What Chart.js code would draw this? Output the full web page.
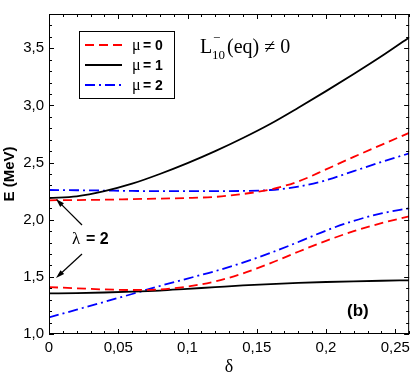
<!DOCTYPE html>
<html>
<head>
<meta charset="utf-8">
<script src="https://cdn.jsdelivr.net/npm/chart.js@4/dist/chart.umd.min.js"></script>
<style>
  html, body { margin: 0; padding: 0; background: #fff; }
  #wrap { width: 415px; height: 376px; }
</style>
</head>
<body>
<div id="wrap"><canvas id="energy" width="415" height="376"></canvas></div>
<script>
// deformation values along the x axis
var delta = [0, 0.02, 0.04, 0.06, 0.08, 0.10, 0.12, 0.14, 0.16, 0.18, 0.20, 0.22, 0.24, 0.26];

// upper branch (MeV)
var mu0Upper = [2.17, 2.172, 2.175, 2.18, 2.185, 2.19, 2.20, 2.225, 2.265, 2.335, 2.44, 2.55, 2.655, 2.76];
var mu1Upper = [2.19, 2.205, 2.25, 2.315, 2.40, 2.495, 2.60, 2.715, 2.84, 2.98, 3.125, 3.275, 3.43, 3.595];
var mu2Upper = [2.26, 2.258, 2.255, 2.252, 2.25, 2.25, 2.25, 2.252, 2.26, 2.29, 2.345, 2.425, 2.505, 2.58];

// lower branch (MeV)
var mu0Lower = [1.41, 1.40, 1.39, 1.385, 1.39, 1.415, 1.46, 1.53, 1.62, 1.72, 1.815, 1.90, 1.97, 2.03];
var mu1Lower = [1.355, 1.358, 1.363, 1.37, 1.38, 1.395, 1.41, 1.425, 1.437, 1.447, 1.455, 1.461, 1.466, 1.47];
var mu2Lower = [1.145, 1.213, 1.281, 1.35, 1.42, 1.485, 1.55, 1.625, 1.71, 1.805, 1.905, 1.99, 2.055, 2.10];

var xTicks = [0, 0.05, 0.1, 0.15, 0.2, 0.25];
var yTicks = [1.0, 1.5, 2.0, 2.5, 3.0, 3.5];

var legendLabels = ['0', '1', '2'];

var RED = '#ff0000';
var BLUE = '#0000ff';
var BLACK = '#000000';
var DASH_RED = [9, 5];
var DASH_BLUE = [10, 4, 2, 4];

function toPoints(ys) {
    var pts = [];
    for (var i = 0; i < delta.length; i++) {
        pts.push({x: delta[i], y: ys[i]});
    }
    return pts;
}

function comma(v) {
    return String(v).replace('.', ',');
}

function makeSet(label, ys, color, dash) {
    return {
        label: label,
        data: toPoints(ys),
        borderColor: color,
        backgroundColor: color,
        borderWidth: 1.8,
        borderDash: dash,
        pointRadius: 0,
        cubicInterpolationMode: 'monotone',
        fill: false
    };
}

// frame, inward ticks, legend and labels
var decorations = {
    id: 'decorations',
    afterDraw: function (chart) {
        var ctx = chart.ctx;
        var a = chart.chartArea;
        var xs = chart.scales.x;
        var ys = chart.scales.y;
        var i, p, len;

        ctx.save();
        ctx.strokeStyle = '#000';
        ctx.lineWidth = 1;
        ctx.setLineDash([]);
        ctx.strokeRect(a.left + 0.5, a.top + 0.5, a.right - a.left - 1, a.bottom - a.top - 1);

        ctx.beginPath();
        for (i = 0; i <= 26; i++) {
            p = Math.round(xs.getPixelForValue(i / 100)) + 0.5;
            len = (i % 5 === 0) ? 5 : 3;
            ctx.moveTo(p, a.bottom);
            ctx.lineTo(p, a.bottom - len);
            ctx.moveTo(p, a.top);
            ctx.lineTo(p, a.top + len);
        }
        for (i = 10; i <= 38; i++) {
            p = Math.round(ys.getPixelForValue(i / 10)) + 0.5;
            len = (i % 5 === 0) ? 5 : 3;
            ctx.moveTo(a.left, p);
            ctx.lineTo(a.left + len, p);
            ctx.moveTo(a.right, p);
            ctx.lineTo(a.right - len, p);
        }
        ctx.stroke();

        // legend box
        ctx.strokeRect(79.5, 31.5, 95, 67);
        var rows = [45, 65, 85];
        var styles = [[RED, DASH_RED], [BLACK, []], [BLUE, DASH_BLUE]];
        for (i = 0; i < 3; i++) {
            ctx.beginPath();
            ctx.strokeStyle = styles[i][0];
            ctx.lineWidth = 1.8;
            ctx.setLineDash(styles[i][1]);
            ctx.moveTo(85, rows[i]);
            ctx.lineTo(122, rows[i]);
            ctx.stroke();
            ctx.setLineDash([]);
            ctx.fillStyle = '#000';
            ctx.textBaseline = 'alphabetic';
            ctx.font = '16px "Liberation Serif"';
            ctx.fillText('\u03bc', 132, rows[i] + 5);
            ctx.font = 'bold 14px "Liberation Sans"';
            ctx.fillText('= ' + legendLabels[i], 143, rows[i] + 5);
        }

        // L^-_10(eq) != 0
        ctx.fillStyle = '#000';
        ctx.font = '20px "Liberation Serif"';
        ctx.fillText('L', 200, 53);
        ctx.fillText('(eq) \u2260 0', 227, 53);
        ctx.font = '13px "Liberation Serif"';
        ctx.fillText('10', 212, 59);
        ctx.fillText('\u2212', 213, 42);

        // lambda = 2 with arrows
        ctx.font = '17px "Liberation Serif"';
        ctx.fillText('\u03bb', 72, 244);
        ctx.font = 'bold 16px "Liberation Sans"';
        ctx.fillText('= 2', 86, 244);
        arrow(ctx, 82, 225, 56, 199);
        arrow(ctx, 82, 254, 56, 278);

        ctx.font = 'bold 17px "Liberation Sans"';
        ctx.fillText('(b)', 347, 316);
        ctx.restore();
    }
};

function arrow(ctx, x1, y1, x2, y2) {
    var ang = Math.atan2(y2 - y1, x2 - x1);
    ctx.beginPath();
    ctx.strokeStyle = '#000';
    ctx.lineWidth = 1.2;
    ctx.moveTo(x1, y1);
    ctx.lineTo(x2 - 4 * Math.cos(ang), y2 - 4 * Math.sin(ang));
    ctx.stroke();
    ctx.beginPath();
    ctx.fillStyle = '#000';
    ctx.moveTo(x2, y2);
    ctx.lineTo(x2 - 9 * Math.cos(ang - 0.3), y2 - 9 * Math.sin(ang - 0.3));
    ctx.lineTo(x2 - 9 * Math.cos(ang + 0.3), y2 - 9 * Math.sin(ang + 0.3));
    ctx.closePath();
    ctx.fill();
}

var ctx = document.getElementById('energy').getContext('2d');
var chart = new Chart(ctx, {
    type: 'line',
    data: {
        datasets: [
            makeSet('\u03bc = 0', mu0Upper, RED, DASH_RED),
            makeSet('\u03bc = 1', mu1Upper, BLACK, []),
            makeSet('\u03bc = 2', mu2Upper, BLUE, DASH_BLUE),
            makeSet('\u03bc = 0', mu0Lower, RED, DASH_RED),
            makeSet('\u03bc = 1', mu1Lower, BLACK, []),
            makeSet('\u03bc = 2', mu2Lower, BLUE, DASH_BLUE)
        ]
    },
    options: {
        responsive: false,
        animation: false,
        layout: {padding: {top: 2, right: 3, left: 0, bottom: 0}},
        plugins: {
            legend: {display: false},
            tooltip: {enabled: false}
        },
        scales: {
            x: {
                type: 'linear',
                min: 0,
                max: 0.26,
                afterFit: function (scale) { scale.height = 42; },
                afterBuildTicks: function (scale) {
                    scale.ticks = xTicks.map(function (v) { return {value: v}; });
                },
                grid: {display: false, drawTicks: false},
                border: {display: false},
                ticks: {
                    padding: 5,
                    color: '#000',
                    font: {family: 'Liberation Sans', size: 15},
                    callback: function (v) { return comma(v); }
                },
                title: {
                    display: true,
                    text: '\u03b4',
                    color: '#000',
                    padding: 0,
                    font: {family: 'Liberation Serif', size: 18, lineHeight: 1}
                }
            },
            y: {
                min: 1.0,
                max: 3.8,
                afterFit: function (scale) { scale.width = 49; },
                afterBuildTicks: function (scale) {
                    scale.ticks = yTicks.map(function (v) { return {value: v}; });
                },
                grid: {display: false, drawTicks: false},
                border: {display: false},
                ticks: {
                    padding: 5,
                    color: '#000',
                    font: {family: 'Liberation Sans', size: 15},
                    callback: function (v) { return comma(v.toFixed(1)); }
                },
                title: {
                    display: true,
                    text: 'E (MeV)',
                    color: '#000',
                    padding: {top: 2, bottom: 0},
                    font: {family: 'Liberation Sans', size: 15, weight: 'bold', lineHeight: 1}
                }
            }
        }
    },
    plugins: [decorations]
});
</script>
</body>
</html>
